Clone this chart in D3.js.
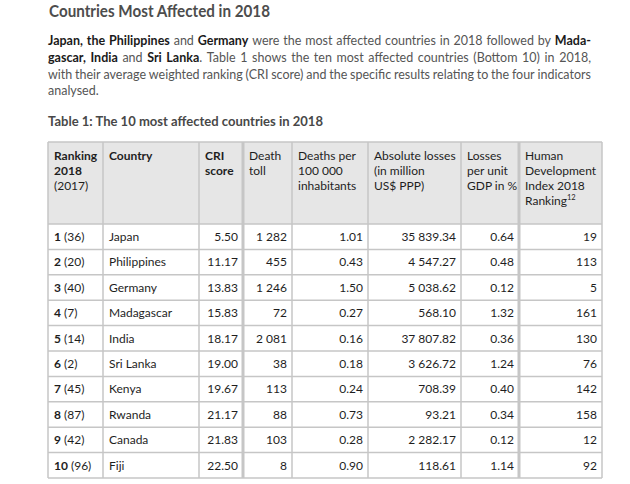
<!DOCTYPE html>
<html><head><meta charset="utf-8">
<script src="https://cdn.jsdelivr.net/npm/d3@7"></script>
<style>body{margin:0;background:#fff;} svg{display:block}</style>
</head><body>
<svg id="c" width="630" height="484"></svg>
<script>
// ---------- DATA ----------
const ranks2018 = [1,2,3,4,5,6,7,8,9,10];
const ranks2017 = [36,20,40,7,14,2,45,87,42,96];
const countries = ["Japan","Philippines","Germany","Madagascar","India","Sri Lanka","Kenya","Rwanda","Canada","Fiji"];
const criScores = [5.50,11.17,13.83,15.83,18.17,19.00,19.67,21.17,21.83,22.50];
const deathToll = [1282,455,1246,72,2081,38,113,88,103,8];
const deathsPer100k = [1.01,0.43,1.50,0.27,0.16,0.18,0.24,0.73,0.28,0.90];
const absoluteLosses = [35839.34,4547.27,5038.62,568.10,37807.82,3626.72,708.39,93.21,2282.17,118.61];
const lossesPerGDP = [0.64,0.48,0.12,1.32,0.36,1.24,0.40,0.34,0.12,1.14];
const hdiRanking = [19,113,5,161,130,76,142,158,12,92];

const columnKeys = ["rank","country","cri","deaths","per100k","abs","gdp","hdi"];
const headerLines = [
  [[["Ranking",1]],[["2018",1]],[["(2017)",0]]],
  [[["Country",1]]],
  [[["CRI",1]],[["score",1]]],
  [[["Death",0]],[["toll",0]]],
  [[["Deaths per",0]],[["100 000",0]],[["inhabitants",0]]],
  [[["Absolute losses",0]],[["(in million",0]],[["US$ PPP)",0]]],
  [[["Losses",0]],[["per unit",0]],[["GDP in %",0]]],
  [[["Human",0]],[["Development",0]],[["Index 2018",0]],[["Ranking",0],["12",2]]]
];
const titleText = "Countries Most Affected in 2018";
const paragraphLines = [
  "*Japan, the Philippines* and *Germany* were the most affected countries in 2018 followed by *Mada-*",
  "*gascar, India* and *Sri Lanka*. Table 1 shows the ten most affected countries (Bottom 10) in 2018,",
  "with their average weighted ranking (CRI score) and the specific results relating to the four indicators",
  "analysed."
];
const tableTitle = "Table 1: The 10 most affected countries in 2018";

// ---------- LAYOUT ----------
const FONT = "Lato, 'Open Sans', sans-serif";
const colWidths = [55,96,44,49,76,93,58,83];
const tableLeft = 48, tableTop = 142, headerBottom = 224, tableBottom = 478;
const edges = [tableLeft, ...d3.cumsum(colWidths).map(v => v + tableLeft)];
const xLeft = d3.scaleOrdinal().domain(columnKeys).range(edges.slice(0,-1));
const xRight = d3.scaleOrdinal().domain(columnKeys).range(edges.slice(1));
const y = d3.scaleBand().domain(d3.range(countries.length)).range([headerBottom, tableBottom]);

const loc = d3.formatLocale({decimal:".", thousands:" ", grouping:[3], currency:["",""]});
const f2 = loc.format(",.2f"), f0 = loc.format(",.0f");

const svg = d3.select("#c");

// title
svg.append("text").attr("x",49).attr("y",17).attr("font-family",FONT)
  .attr("font-size",17).attr("font-weight",700).attr("fill","#4d4d4d")
  .attr("textLength",221).attr("lengthAdjust","spacingAndGlyphs").text(titleText);

// paragraph (justified, horizontally condensed)
function parseLine(s){
  const words=[]; let bold=false, cur=[], buf="";
  const flush=()=>{ if(buf){cur.push([buf,bold]); buf="";} };
  for(const ch of s){
    if(ch==="*"){ flush(); bold=!bold; }
    else if(ch===" "){ flush(); if(cur.length){words.push(cur); cur=[];} }
    else buf+=ch;
  }
  flush(); if(cur.length) words.push(cur);
  return words;
}
const paraLeft = 48, paraRight = 591, paraY0 = 45.5, paraLH = 16.6, paraSize = 14;
const paraG = svg.append("g");
const lineData = paragraphLines.map((line,i)=>{
  const words = parseLine(line);
  const texts = words.map(w=>{
    const t = paraG.append("text").attr("font-family",FONT).attr("font-size",paraSize)
      .attr("y", paraY0 + i*paraLH);
    w.forEach(([txt,b])=>t.append("tspan").attr("font-weight",b?700:400)
      .attr("fill",b?"#1a1a1a":"#555").text(txt));
    return t;
  });
  const widths = texts.map(t=>t.node().getComputedTextLength());
  return {texts, widths};
});
const normalGap = paraSize*0.22;
const fx = Math.min(1, (paraRight-paraLeft) / d3.max(lineData.slice(0,3), l => d3.sum(l.widths) + (l.widths.length-1)*normalGap));
paraG.attr("transform",`translate(${paraLeft},0) scale(${fx},1)`);
const avail = (paraRight-paraLeft)/fx;
lineData.forEach((l,i)=>{
  const last = i===lineData.length-1;
  const gap = last ? normalGap : (avail - d3.sum(l.widths))/(l.widths.length-1);
  let x=0;
  l.texts.forEach((t,k)=>{ t.attr("x",x); x+=l.widths[k]+gap; });
});

svg.append("text").attr("x",48).attr("y",126).attr("font-family",FONT)
  .attr("font-size",13).attr("font-weight",700).attr("fill","#484848")
  .attr("textLength",275).attr("lengthAdjust","spacingAndGlyphs").text(tableTitle);

// header background
svg.append("rect").attr("x",tableLeft).attr("y",tableTop)
  .attr("width",edges[edges.length-1]-tableLeft).attr("height",headerBottom-tableTop)
  .attr("fill","#e6e6e6");

// header texts
headerLines.forEach((lines,ci)=>{
  lines.forEach((pieces,li)=>{
    const t = svg.append("text").attr("x",xLeft(columnKeys[ci])+6).attr("y",159.5+li*15.2)
      .attr("font-family",FONT).attr("font-size",12).attr("fill","#1e1e1e");
    pieces.forEach(([txt,b])=>{
      const ts = t.append("tspan").text(txt);
      if(b===1) ts.attr("font-weight",700);
      if(b===2) ts.attr("font-size",7.5).attr("dy",-5);
    });
  });
});

// body rows
const rows = countries.map((c,i)=>({i, rank:ranks2018[i], prev:ranks2017[i], country:c,
  cri:f2(criScores[i]), deaths:f0(deathToll[i]), per100k:f2(deathsPer100k[i]),
  abs:f2(absoluteLosses[i]), gdp:f2(lossesPerGDP[i]), hdi:f0(hdiRanking[i])}));

const rowG = svg.selectAll("g.row").data(rows).join("g").attr("class","row")
  .attr("font-family",FONT).attr("font-size",12).attr("fill","#1e1e1e");
rowG.each(function(d){
  const g = d3.select(this);
  const yc = y(d.i) + y.bandwidth()/2 + 4.3;
  const r = g.append("text").attr("x",xLeft("rank")+6).attr("y",yc);
  r.append("tspan").attr("font-weight",700).text(d.rank);
  r.append("tspan").text(" ("+d.prev+")");
  g.append("text").attr("x",xLeft("country")+6).attr("y",yc).text(d.country);
  ["cri","deaths","per100k","abs","gdp","hdi"].forEach(k=>{
    g.append("text").attr("x",xRight(k)-5).attr("y",yc).attr("text-anchor","end").text(d[k]);
  });
});

// grid lines
const lineColor = "#c6c6c6";
const hys = [tableTop, headerBottom, ...d3.range(countries.length).map(i=>y(i)+y.bandwidth())];
svg.selectAll("line.h").data(hys).join("line").attr("class","h")
  .attr("x1",tableLeft).attr("x2",edges[edges.length-1]).attr("y1",d=>d).attr("y2",d=>d)
  .attr("stroke",lineColor).attr("stroke-width",1.5);
svg.selectAll("line.v").data(edges).join("line").attr("class","v")
  .attr("x1",d=>d).attr("x2",d=>d).attr("y1",tableTop).attr("y2",tableBottom)
  .attr("stroke",lineColor).attr("stroke-width",(d,i)=>(i===3||i===7)?3:1.5);
</script>
</body></html>
